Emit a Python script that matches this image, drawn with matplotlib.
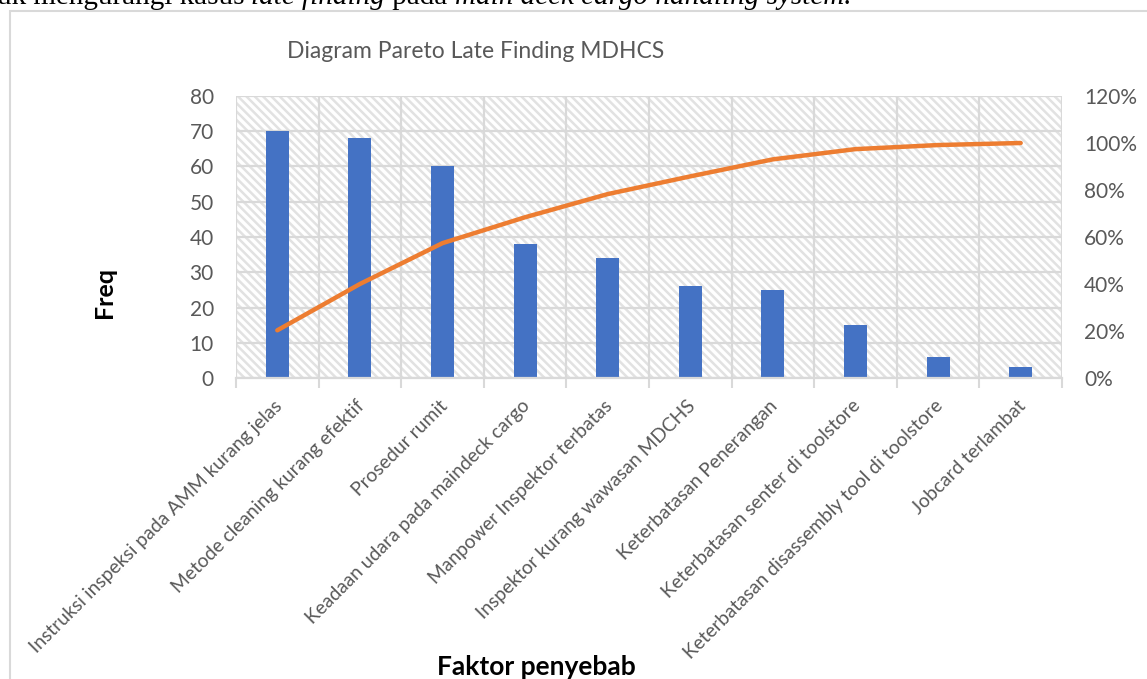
import matplotlib
matplotlib.use("Agg")
import matplotlib.pyplot as plt
import matplotlib.transforms as mtransforms
from matplotlib.patches import Rectangle
import numpy as np

categories = [
    "Instruksi inspeksi pada AMM kurang jelas",
    "Metode cleaning kurang efektif",
    "Prosedur rumit",
    "Keadaan udara pada maindeck cargo",
    "Manpower Inspektor terbatas",
    "Inspektor kurang wawasan MDCHS",
    "Keterbatasan Penerangan",
    "Keterbatasan senter di toolstore",
    "Keterbatasan disassembly tool di toolstore",
    "Jobcard terlambat",
]
freq = [70, 68, 60, 38, 34, 26, 25, 15, 6, 3]
left_ticks = [0, 10, 20, 30, 40, 50, 60, 70, 80]
right_ticks = [0, 20, 40, 60, 80, 100, 120]
right_tick_labels = ["0%", "20%", "40%", "60%", "80%", "100%", "120%"]

title = "Diagram Pareto Late Finding MDHCS"
xlabel = "Faktor penyebab"
ylabel = "Freq"

total = float(sum(freq))
cum_pct = list(np.cumsum(freq) / total * 100)

W, H = 1147, 679
DPI = 100
plt.rcParams["hatch.color"] = "#e2e2e2"
plt.rcParams["hatch.linewidth"] = 1.8
FONT = "Lato"
TXT = "#595959"
GRID = "#d9d9d9"

fig = plt.figure(figsize=(W / DPI, H / DPI), dpi=DPI)

# chart frame
fig.patches.append(Rectangle((10 / W, -0.01), 1.2, 1 - 11 / H + 0.01,
                             transform=fig.transFigure, facecolor="none",
                             edgecolor="#d9d9d9", linewidth=1.5))

def px(x, y):
    return x / W, 1 - y / H

# top document text (cut off)
y0 = px(0, 4)[1]
t = fig.text(-0.003, y0, "uk mengurangi kasus ", family="Liberation Serif", fontsize=21,
             va="baseline", ha="left")
fig.canvas.draw()
r = fig.canvas.get_renderer()
x_cur = t.get_window_extent(r).x1
for s, st in [("late finding", "italic"), (" pada ", "normal"),
              ("main deck cargo handling system.", "italic")]:
    tt = fig.text(x_cur / W, y0, s, family="Liberation Serif", fontsize=21,
                  va="baseline", ha="left", style=st)
    x_cur = tt.get_window_extent(r).x1

left, right, top, bottom = 236, 1062, 96, 378
ax = fig.add_axes([left / W, 1 - bottom / H, (right - left) / W, (bottom - top) / H])
ax.set_facecolor("none")
bg = Rectangle((0, 0), 1, 1, transform=ax.transAxes, facecolor="white",
               edgecolor="#e2e2e2", hatch="\\\\\\\\", linewidth=0, zorder=0.1)
ax.add_patch(bg)

n = len(categories)
x = np.arange(n)
ax.bar(x, freq, width=0.28, color="#4472C4", zorder=2)
ax.set_xlim(-0.5, n - 0.5)
ax.set_ylim(0, 80)
ax.set_yticks(left_ticks)
ax.set_axisbelow(True)
ax.set_xticks(x)
ax.set_xticks(np.arange(n + 1) - 0.5, minor=True)
ax.grid(True, which="major", axis="y", color=GRID, linewidth=1.6, zorder=0.5)
ax.grid(True, which="minor", axis="x", color=GRID, linewidth=1.6, zorder=0.5)
ax.tick_params(axis="x", which="major", length=0, pad=0)
ax.tick_params(axis="x", which="minor", length=7, width=1.5, color=GRID)
ax.tick_params(axis="y", length=0, pad=16, labelsize=15, labelcolor=TXT)
for sp in ["top", "right", "left"]:
    ax.spines[sp].set_visible(False)
ax.spines["bottom"].set_color(GRID)
ax.spines["bottom"].set_linewidth(1.6)
for lab in ax.get_yticklabels():
    lab.set_family(FONT)

ax.set_xticklabels(categories, rotation=45, ha="right", va="center",
                   rotation_mode="anchor", fontsize=13.9, color=TXT, family=FONT)
off = mtransforms.ScaledTranslation(2 / DPI, -25 / DPI, fig.dpi_scale_trans)
for lab in ax.get_xticklabels():
    lab.set_transform(lab.get_transform() + off)

ax2 = ax.twinx()
ax2.plot(x, cum_pct, color="#ED7D31", linewidth=3.2, solid_capstyle="round", zorder=3)
ax2.set_ylim(0, 120)
ax2.set_yticks(right_ticks)
ax2.set_yticklabels(right_tick_labels)
ax2.tick_params(axis="y", length=0, pad=16, labelsize=15, labelcolor=TXT)
for lab in ax2.get_yticklabels():
    lab.set_family(FONT)
for sp in ax2.spines.values():
    sp.set_visible(False)

fx, fy = px(476, 52)
fig.text(fx, fy, title, ha="center", va="center", fontsize=16.5, color=TXT,
         family=FONT, fontweight="normal")
fx, fy = px(536, 675)
fig.text(fx, fy, xlabel, ha="center", va="baseline", fontsize=19, color="black",
         family=FONT, fontweight="bold")
fx, fy = px(104, 292)
fig.text(fx, fy, ylabel, ha="center", va="center", fontsize=18, color="black",
         family=FONT, fontweight="bold", rotation=90)

fig.savefig("out.png", dpi=DPI)
